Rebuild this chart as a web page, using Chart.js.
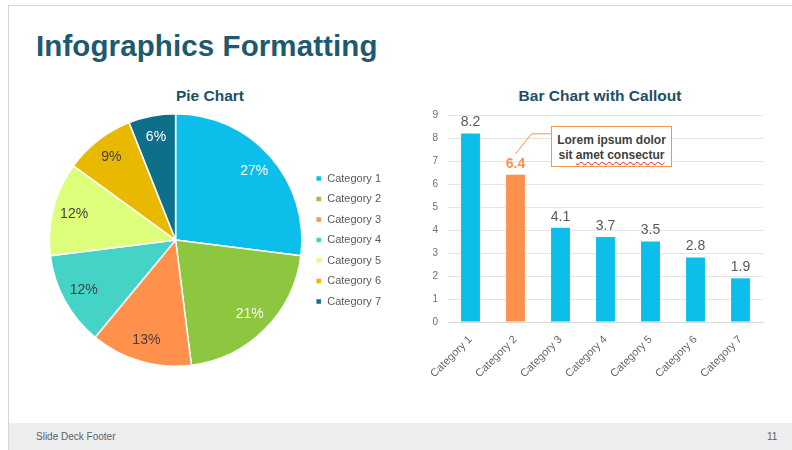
<!DOCTYPE html>
<html>
<head>
<meta charset="utf-8">
<script src="https://cdn.jsdelivr.net/npm/chart.js@4.4.0/dist/chart.umd.min.js"></script>
<style>
  body { margin: 0; width: 792px; height: 450px; background: #fff; font-family: "Liberation Sans", Arial, sans-serif; overflow: hidden; }
  .slide { position: absolute; left: 8px; top: 5px; width: 800px; height: 450px; border-left: 1px solid #d4d4d4; border-top: 1px solid #d4d4d4; }
  .title { position: absolute; left: 36px; top: 29px; font-size: 29.5px; font-weight: bold; color: #1d5a70; letter-spacing: 0.1px; }
  .sub { position: absolute; top: 87px; font-size: 15.5px; font-weight: bold; color: #1f4e62; text-align: center; }
  .footer { position: absolute; left: 9px; top: 423px; width: 790px; height: 27px; background: #ecedef; }
  .footer span { position: absolute; top: 8px; font-size: 10px; color: #5f5f5f; }
  .callout { position: absolute; left: 551px; top: 126px; width: 119px; height: 33px; border: 1.5px solid #f79646; background: #fff;
             font-size: 12px; font-weight: bold; color: #404040; text-align: center; line-height: 15px; padding-top: 6px; }
  .callout u { text-decoration: underline wavy #e02020; text-decoration-thickness: 1px; text-underline-offset: 2px; }
  canvas { position: absolute; }
</style>
</head>
<body>
<div class="slide"></div>
<div class="title">Infographics Formatting</div>
<div class="sub" style="left:110px;width:200px;">Pie Chart</div>
<div class="sub" style="left:500px;width:200px;">Bar Chart with Callout</div>

<div style="position:absolute;left:45px;top:113px;width:346px;height:254px;"><canvas id="pieChart"></canvas></div>
<div style="position:absolute;left:420px;top:99px;width:360px;height:295px;"><canvas id="barChart"></canvas></div>

<div class="callout">Lorem ipsum dolor<br>sit <u>amet consectur</u></div>

<div class="footer"><span style="left:27px;">Slide Deck Footer</span><span style="left:758px;">11</span></div>

<script>
// données du graphique
const categories = ['Category 1', 'Category 2', 'Category 3', 'Category 4', 'Category 5', 'Category 6', 'Category 7'];
const pieValues = [27, 21, 13, 12, 12, 9, 6];
const barValues = [8.2, 6.4, 4.1, 3.7, 3.5, 2.8, 1.9];
const yTicks = [0, 1, 2, 3, 4, 5, 6, 7, 8, 9];

const pieColors = ['#0bbfea', '#8dc63f', '#ff914d', '#45d3c7', '#ddff7b', '#e8b900', '#0e6f8a'];
const pieLabelColors = ['#ffffff', '#ffffff', '#404040', '#404040', '#404040', '#404040', '#ffffff'];
const barColors = ['#0bbfea', '#ff914d', '#0bbfea', '#0bbfea', '#0bbfea', '#0bbfea', '#0bbfea'];

// étiquettes en % sur le camembert
const pieLabels = {
    id: 'pieLabels',
    afterDatasetsDraw(chart) {
        const ctx = chart.ctx;
        const meta = chart.getDatasetMeta(0);
        ctx.save();
        ctx.font = '14px "Liberation Sans", Arial, sans-serif';
        ctx.textAlign = 'center';
        ctx.textBaseline = 'middle';
        meta.data.forEach((arc, i) => {
            const mid = (arc.startAngle + arc.endAngle) / 2;
            const r = arc.outerRadius * 0.83;
            ctx.fillStyle = pieLabelColors[i];
            ctx.fillText(pieValues[i] + '%', arc.x + Math.cos(mid) * r, arc.y + Math.sin(mid) * r);
        });
        ctx.restore();
    }
};

new Chart(document.getElementById('pieChart'), {
    type: 'pie',
    data: {
        labels: categories,
        datasets: [{
            data: pieValues,
            backgroundColor: pieColors,
            borderColor: '#fff',
            borderWidth: 1.5
        }]
    },
    options: {
        responsive: true,
        maintainAspectRatio: false,
        animation: false,
        plugins: {
            legend: {
                position: 'right',
                labels: {
                    boxWidth: 6,
                    boxHeight: 6,
                    padding: 9.5,
                    color: '#595959',
                    font: { size: 11, family: '"Liberation Sans", Arial, sans-serif' }
                }
            },
            tooltip: { enabled: false }
        }
    },
    plugins: [pieLabels]
});

// valeurs au-dessus des barres + trait de la bulle
const barLabels = {
    id: 'barLabels',
    afterDatasetsDraw(chart) {
        const ctx = chart.ctx;
        const meta = chart.getDatasetMeta(0);
        ctx.save();
        ctx.textAlign = 'center';
        ctx.textBaseline = 'bottom';
        meta.data.forEach((bar, i) => {
            if (i === 1) {
                ctx.font = 'bold 14px "Liberation Sans", Arial, sans-serif';
                ctx.fillStyle = '#ff914d';
            } else {
                ctx.font = '14px "Liberation Sans", Arial, sans-serif';
                ctx.fillStyle = '#595959';
            }
            ctx.fillText(barValues[i].toFixed(1), bar.x, bar.y - 4);
        });
        // trait vers la bulle
        const b = meta.data[1];
        ctx.strokeStyle = '#f79646';
        ctx.lineWidth = 1;
        ctx.beginPath();
        ctx.moveTo(b.x, b.y - 21);
        ctx.lineTo(b.x + 16, b.y - 41);
        ctx.lineTo(551 - 420, b.y - 41);
        ctx.stroke();
        ctx.restore();
    }
};

new Chart(document.getElementById('barChart'), {
    type: 'bar',
    data: {
        labels: categories,
        datasets: [{
            data: barValues,
            backgroundColor: barColors,
            categoryPercentage: 1,
            barPercentage: 0.42
        }]
    },
    options: {
        responsive: true,
        maintainAspectRatio: false,
        animation: false,
        layout: { padding: { left: 0, right: 17, top: 5, bottom: 0 } },
        scales: {
            y: {
                min: 0,
                max: 9,
                afterBuildTicks(scale) { scale.ticks = yTicks.map(v => ({ value: v })); },
                afterFit(scale) { scale.width = 28; },
                border: { display: false },
                grid: { color: '#e4e4e4', drawTicks: false },
                ticks: { color: '#6f6f6f', padding: 10, font: { size: 10 } }
            },
            x: {
                afterFit(scale) { scale.height = 72; },
                border: { color: '#d9d9d9' },
                grid: { display: false },
                ticks: { color: '#666', minRotation: 45, maxRotation: 45, font: { size: 11 } }
            }
        },
        plugins: { legend: { display: false }, tooltip: { enabled: false } }
    },
    plugins: [barLabels]
});
</script>
</body>
</html>
